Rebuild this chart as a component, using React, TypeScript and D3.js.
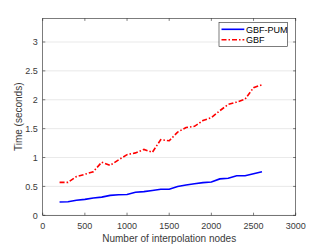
import React, { useEffect, useRef } from "react";
import * as d3 from "d3";

const nodes = [200, 300, 400, 500, 600, 700, 800, 900, 1000, 1100, 1200, 1300, 1400, 1500, 1600, 1700, 1800, 1900, 2000, 2100, 2200, 2300, 2400, 2500, 2600];
const pumTimes = [0.23, 0.235, 0.26, 0.275, 0.3, 0.315, 0.345, 0.355, 0.36, 0.4, 0.41, 0.43, 0.45, 0.45, 0.5, 0.525, 0.545, 0.565, 0.575, 0.63, 0.64, 0.685, 0.685, 0.72, 0.755];
const gbfTimes = [0.57, 0.57, 0.67, 0.71, 0.755, 0.92, 0.865, 0.96, 1.05, 1.08, 1.14, 1.09, 1.31, 1.29, 1.44, 1.52, 1.54, 1.64, 1.69, 1.81, 1.92, 1.96, 2.01, 2.21, 2.26];
const seriesNames = ["GBF-PUM", "GBF"];
const xTicks = [0, 500, 1000, 1500, 2000, 2500, 3000];
const yTicks = [0, 0.5, 1, 1.5, 2, 2.5, 3];

export default function App() {
  const svgRef = useRef<SVGSVGElement>(null);

  useEffect(() => {
    if (!svgRef.current) return;
    const svg = d3.select(svgRef.current);
    svg.selectAll("*").remove();

    const left = 42.7, right = 295.7, top = 18.3, bottom = 215.3;
    const axisColor = "#262626";
    const textColor = "#3a3a3a";
    const font = "'Liberation Sans', Arial, sans-serif";

    const x = d3.scaleLinear().domain([0, 3000]).range([left, right]);
    const y = d3.scaleLinear().domain([0, 3.41]).range([bottom, top]);

    svg.append("rect").attr("x", 0).attr("y", 0).attr("width", 327).attr("height", 245).style("fill", "#fff");

    // horizontal grid
    yTicks.forEach((t) => {
      svg.append("line")
        .attr("x1", left).attr("x2", right)
        .attr("y1", y(t)).attr("y2", y(t))
        .style("stroke", "#e3e3e3").style("stroke-width", 0.8);
    });

    const tickLen = 2.6;
    xTicks.forEach((t) => {
      svg.append("line").attr("x1", x(t)).attr("x2", x(t)).attr("y1", bottom).attr("y2", bottom - tickLen)
        .style("stroke", axisColor).style("stroke-width", 0.6);
      svg.append("line").attr("x1", x(t)).attr("x2", x(t)).attr("y1", top).attr("y2", top + tickLen)
        .style("stroke", axisColor).style("stroke-width", 0.6);
      svg.append("text")
        .attr("x", x(t)).attr("y", bottom + 13.5)
        .attr("text-anchor", "middle")
        .style("font-family", font).style("font-size", "9px").style("fill", textColor)
        .text(String(t));
    });
    yTicks.forEach((t) => {
      svg.append("line").attr("x1", left).attr("x2", left + tickLen).attr("y1", y(t)).attr("y2", y(t))
        .style("stroke", axisColor).style("stroke-width", 0.6);
      svg.append("line").attr("x1", right).attr("x2", right - tickLen).attr("y1", y(t)).attr("y2", y(t))
        .style("stroke", axisColor).style("stroke-width", 0.6);
      svg.append("text")
        .attr("x", left - 5).attr("y", y(t) + 3.2)
        .attr("text-anchor", "end")
        .style("font-family", font).style("font-size", "9px").style("fill", textColor)
        .text(String(t));
    });

    // box
    svg.append("rect")
      .attr("x", left).attr("y", top).attr("width", right - left).attr("height", bottom - top)
      .style("fill", "none").style("stroke", axisColor).style("stroke-width", 0.6);

    const line = d3.line<[number, number]>().x((d) => x(d[0])).y((d) => y(d[1]));

    svg.append("path")
      .datum(nodes.map((n, i) => [n, pumTimes[i]] as [number, number]))
      .attr("d", line)
      .style("fill", "none").style("stroke", "#0000ff").style("stroke-width", 1.6);

    svg.append("path")
      .datum(nodes.map((n, i) => [n, gbfTimes[i]] as [number, number]))
      .attr("d", line)
      .style("fill", "none").style("stroke", "#ff0000").style("stroke-width", 1.6)
      .style("stroke-dasharray", "5,2,1.5,2");

    // axis labels
    svg.append("text")
      .attr("x", (left + right) / 2).attr("y", 242)
      .attr("text-anchor", "middle")
      .style("font-family", font).style("font-size", "10px").style("fill", textColor)
      .text("Number of interpolation nodes");

    svg.append("text")
      .attr("transform", `translate(21.5, ${(top + bottom) / 2}) rotate(-90)`)
      .attr("text-anchor", "middle")
      .style("font-family", font).style("font-size", "10px").style("fill", textColor)
      .text("Time (seconds)");

    // legend
    const lg = svg.append("g");
    lg.append("rect")
      .attr("x", 219).attr("y", 22.3).attr("width", 68.3).attr("height", 24.4)
      .style("fill", "#fff").style("stroke", axisColor).style("stroke-width", 0.6);
    const colors = ["#0000ff", "#ff0000"];
    seriesNames.forEach((name, i) => {
      const ly = 29.3 + i * 10.4;
      lg.append("line")
        .attr("x1", 221.5).attr("x2", 244.3).attr("y1", ly).attr("y2", ly)
        .style("stroke", colors[i]).style("stroke-width", 1.6)
        .style("stroke-dasharray", i === 1 ? "5,2,1.5,2" : null);
      lg.append("text")
        .attr("x", 246).attr("y", ly + 3.2)
        .style("font-family", font).style("font-size", "9px").style("fill", "#000")
        .text(name);
    });
  }, []);

  return (
    <svg
      ref={svgRef}
      width={327}
      height={245}
      style={{ position: "absolute", left: 0, top: 0 }}
    />
  );
}
